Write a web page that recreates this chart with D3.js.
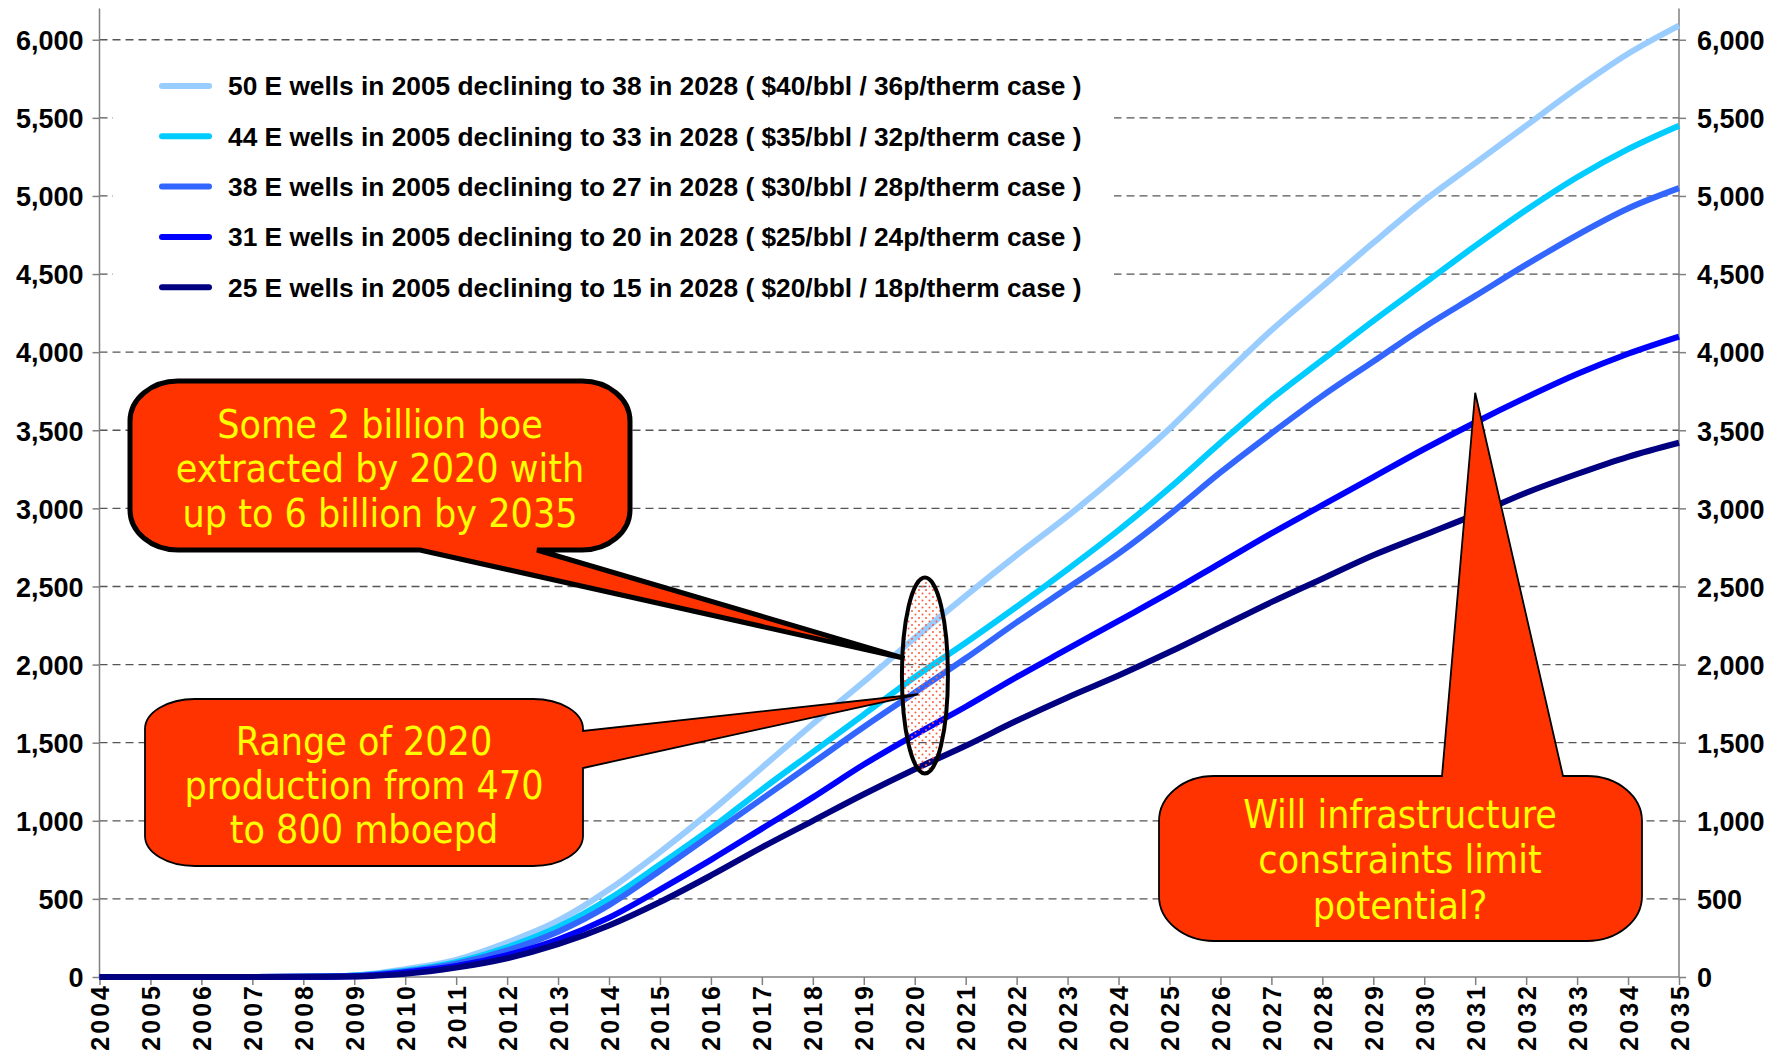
<!DOCTYPE html>
<html>
<head>
<meta charset="utf-8">
<script src="https://cdn.jsdelivr.net/npm/d3@7"></script>
<style>
  body { margin: 0; background: #fff; }
</style>
</head>
<body>
<div id="chart"></div>
<script>
// years on the x axis
const years = [2004, 2005, 2006, 2007, 2008, 2009, 2010, 2011, 2012, 2013, 2014, 2015, 2016, 2017, 2018, 2019,
  2020, 2021, 2022, 2023, 2024, 2025, 2026, 2027, 2028, 2029, 2030, 2031, 2032, 2033, 2034, 2035];

// cumulative production per case
const wells50 = [0, 0, 0, 0, 2, 10, 50, 110, 220, 360, 560, 800, 1060, 1340, 1620, 1890,
  2170, 2440, 2700, 2950, 3220, 3510, 3830, 4140, 4420, 4700, 4970, 5210, 5450, 5690, 5910, 6090];
const wells44 = [0, 0, 0, 0, 2, 10, 40, 95, 190, 320, 500, 720, 950, 1200, 1440, 1680,
  1920, 2140, 2370, 2610, 2860, 3130, 3420, 3700, 3950, 4200, 4440, 4680, 4910, 5120, 5300, 5450];
const wells38 = [0, 0, 0, 0, 2, 8, 35, 85, 170, 290, 460, 680, 910, 1140, 1370, 1600,
  1820, 2040, 2270, 2490, 2710, 2960, 3230, 3480, 3720, 3940, 4160, 4360, 4560, 4750, 4920, 5050];
const wells31 = [0, 0, 0, 0, 1, 5, 30, 70, 140, 240, 380, 560, 750, 950, 1150, 1360,
  1550, 1730, 1920, 2100, 2280, 2460, 2650, 2840, 3020, 3200, 3380, 3550, 3710, 3860, 3990, 4100];
const wells25 = [0, 0, 0, 0, 1, 3, 20, 60, 120, 210, 330, 480, 650, 830, 1000, 1170,
  1330, 1480, 1640, 1790, 1930, 2080, 2240, 2400, 2550, 2700, 2830, 2960, 3100, 3220, 3330, 3420];

const seriesNames = [
  '50 E wells in 2005 declining to 38 in 2028 ( $40/bbl / 36p/therm case )',
  '44 E wells in 2005 declining to 33 in 2028 ( $35/bbl / 32p/therm case )',
  '38 E wells in 2005 declining to 27 in 2028 ( $30/bbl / 28p/therm case )',
  '31 E wells in 2005 declining to 20 in 2028 ( $25/bbl / 24p/therm case )',
  '25 E wells in 2005 declining to 15 in 2028 ( $20/bbl / 18p/therm case )'
];
const seriesValues = [wells50, wells44, wells38, wells31, wells25];
const seriesColors = ['#99ccff', '#00ccff', '#3366ff', '#0000ff', '#000080'];

const yTicks = [0, 500, 1000, 1500, 2000, 2500, 3000, 3500, 4000, 4500, 5000, 5500, 6000];

const callout1Text = ['Some 2 billion boe', 'extracted by 2020 with', 'up to 6 billion by 2035'];
const callout2Text = ['Range of 2020', 'production from 470', 'to 800 mboepd'];
const callout3Text = ['Will infrastructure', 'constraints limit', 'potential?'];

const width = 1773;
const height = 1059;
const margin = { left: 99.5, right: 94, top: 8.5, bottom: 82 };

const svg = d3.select('#chart').append('svg')
  .attr('width', width)
  .attr('height', height);

const xScale = d3.scaleLinear()
  .domain([2004, 2035])
  .range([margin.left, width - margin.right]);

const yScale = d3.scaleLinear()
  .domain([0, 6200])
  .range([height - margin.bottom, margin.top]);

const x0 = xScale.range()[0];
const x1 = xScale.range()[1];

// dot pattern for the highlight ellipse
const defs = svg.append('defs');
const pat = defs.append('pattern')
  .attr('id', 'dots')
  .attr('width', 7)
  .attr('height', 7)
  .attr('patternUnits', 'userSpaceOnUse');
pat.append('circle').attr('cx', 2).attr('cy', 2).attr('r', 1).attr('fill', '#ff5a3c');
pat.append('circle').attr('cx', 5.5).attr('cy', 5.5).attr('r', 1).attr('fill', '#ff5a3c');

// gridlines
svg.append('g')
  .selectAll('line')
  .data(yTicks.filter(d => d > 0))
  .enter().append('line')
    .attr('x1', x0)
    .attr('x2', x1)
    .attr('y1', d => yScale(d))
    .attr('y2', d => yScale(d))
    .style('stroke', '#555')
    .style('stroke-width', 1.3)
    .style('stroke-dasharray', '8,5');

// legend background (hides gridlines behind it)
svg.append('rect')
  .attr('x', 113)
  .attr('y', 57)
  .attr('width', 1001)
  .attr('height', 268)
  .style('fill', '#fff');

// axes
const yAxisLeft = d3.axisLeft(yScale).tickValues(yTicks).tickSize(7).tickFormat(d3.format(','));
const yAxisRight = d3.axisRight(yScale).tickValues(yTicks).tickSize(7).tickFormat(d3.format(','));
const xAxis = d3.axisBottom(xScale).tickValues(years).tickSize(8).tickFormat(d3.format('d'));

function styleAxis(g) {
  g.select('.domain').remove();
  g.selectAll('line').style('stroke', '#808080').style('stroke-width', 1.5);
  g.selectAll('text')
    .style('font-family', 'Liberation Sans, Arial, sans-serif')
    .style('font-weight', 'bold')
    .style('font-size', '27px')
    .style('fill', '#000');
}

svg.append('g')
  .attr('transform', 'translate(' + x0 + ',0)')
  .call(yAxisLeft)
  .call(styleAxis)
  .selectAll('text').attr('x', -16).attr('dy', '0.36em');

svg.append('g')
  .attr('transform', 'translate(' + x1 + ',0)')
  .call(yAxisRight)
  .call(styleAxis)
  .selectAll('text').attr('x', 18).attr('dy', '0.36em');

svg.append('g')
  .attr('transform', 'translate(0,' + yScale(0) + ')')
  .call(xAxis)
  .call(styleAxis)
  .selectAll('text')
    .attr('transform', 'rotate(-90)')
    .attr('x', -6)
    .attr('y', 0)
    .attr('dy', '0.36em')
    .style('text-anchor', 'end')
    .style('font-size', '25px')
    .style('letter-spacing', '3px');

// axis lines
svg.append('line')
  .attr('x1', x0).attr('x2', x0)
  .attr('y1', yScale.range()[1]).attr('y2', yScale(0))
  .style('stroke', '#808080').style('stroke-width', 1.5);
svg.append('line')
  .attr('x1', x1).attr('x2', x1)
  .attr('y1', yScale.range()[1]).attr('y2', yScale(0))
  .style('stroke', '#808080').style('stroke-width', 1.5);
svg.append('line')
  .attr('x1', x0).attr('x2', x1)
  .attr('y1', yScale(0)).attr('y2', yScale(0))
  .style('stroke', '#808080').style('stroke-width', 1.5);

// lines
const line = d3.line()
  .x((d, i) => xScale(years[i]))
  .y(d => yScale(d))
  .curve(d3.curveMonotoneX);

seriesValues.forEach((vals, i) => {
  svg.append('path')
    .attr('d', line(vals))
    .style('fill', 'none')
    .style('stroke', seriesColors[i])
    .style('stroke-width', 6)
    .style('stroke-linejoin', 'round');
});

// legend
const legend = svg.append('g');
seriesNames.forEach((name, i) => {
  const ly = 86 + i * 50.3;
  legend.append('line')
    .attr('x1', 162).attr('x2', 209)
    .attr('y1', ly).attr('y2', ly)
    .style('stroke', seriesColors[i])
    .style('stroke-width', 6)
    .style('stroke-linecap', 'round');
  legend.append('text')
    .attr('x', 228)
    .attr('y', ly)
    .attr('dy', '0.36em')
    .style('font-family', 'Liberation Sans, Arial, sans-serif')
    .style('font-weight', 'bold')
    .style('font-size', '26.3px')
    .text(name);
});

// highlight ellipse round 2020
svg.append('ellipse')
  .attr('cx', xScale(2020.2))
  .attr('cy', yScale(1930))
  .attr('rx', 23)
  .attr('ry', 98)
  .style('fill', 'url(#dots)')
  .style('stroke', '#000')
  .style('stroke-width', 4);

// rounded box with a wedge pointer
function calloutPath(b, side, p1, p2, tip) {
  const { x, y, w, h, rx, ry } = b;
  const arc = (ex, ey) => 'A' + rx + ',' + ry + ' 0 0 1 ' + ex + ',' + ey;
  let p = 'M' + (x + rx) + ',' + y;
  if (side === 'top') p += 'H' + p1 + 'L' + tip[0] + ',' + tip[1] + 'L' + p2 + ',' + y;
  p += 'H' + (x + w - rx) + arc(x + w, y + ry);
  if (side === 'right') p += 'V' + p1 + 'L' + tip[0] + ',' + tip[1] + 'L' + (x + w) + ',' + p2;
  p += 'V' + (y + h - ry) + arc(x + w - rx, y + h);
  if (side === 'bottom') p += 'H' + p2 + 'L' + tip[0] + ',' + tip[1] + 'L' + p1 + ',' + (y + h);
  p += 'H' + (x + rx) + arc(x, y + h - ry);
  p += 'V' + (y + ry) + arc(x + rx, y) + 'Z';
  return p;
}

function callout(b, side, p1, p2, tip, strokeW, lines, cx, cy0, lh) {
  svg.append('path')
    .attr('d', calloutPath(b, side, p1, p2, tip))
    .style('fill', '#ff3300')
    .style('stroke', '#000')
    .style('stroke-width', strokeW)
    .style('stroke-linejoin', 'miter');
  svg.append('g').selectAll('text')
    .data(lines)
    .enter().append('text')
      .attr('x', cx)
      .attr('y', (d, i) => cy0 + i * lh)
      .attr('dy', '0.35em')
      .style('text-anchor', 'middle')
      .style('font-family', 'DejaVu Sans Condensed, DejaVu Sans, sans-serif')
      .style('font-stretch', 'condensed')
      .style('font-size', '39px')
      .style('fill', '#ffff00')
      .text(d => d);
}

callout({ x: 130, y: 381, w: 500, h: 169, rx: 48, ry: 40 }, 'bottom', 420, 537,
  [xScale(2019.8), yScale(2040)], 5, callout1Text, 380, 424, 44.5);

callout({ x: 145, y: 699, w: 438, h: 167, rx: 50, ry: 30 }, 'right', 731, 768,
  [xScale(2020.07), yScale(1810)], 1.8, callout2Text, 364, 741, 44);

callout({ x: 1159, y: 776, w: 483, h: 165, rx: 55, ry: 45 }, 'top', 1442, 1563,
  [xScale(2031), yScale(3740)], 1.8, callout3Text, 1400, 814, 45.5);
</script>
</body>
</html>
